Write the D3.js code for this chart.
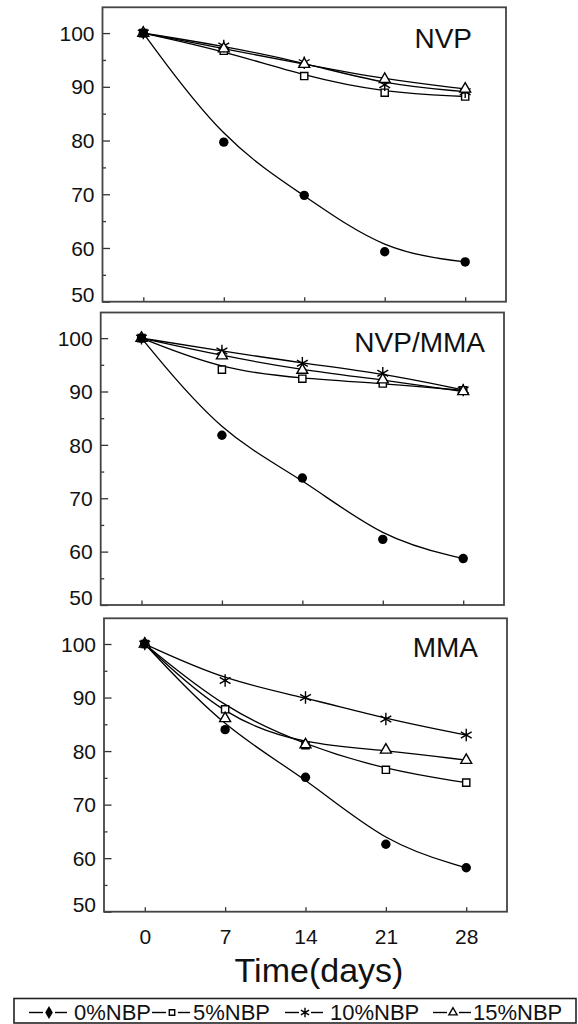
<!DOCTYPE html>
<html>
<head>
<meta charset="utf-8">
<script src="https://cdn.jsdelivr.net/npm/d3@7/dist/d3.min.js"></script>
<style>
  html, body { margin: 0; padding: 0; background: #fff; }
  svg { display: block; font-family: "Liberation Sans", Arial, sans-serif; }
</style>
</head>
<body>
<div class="graph"></div>
<script>
// data
const days = [0, 7, 14, 21, 28];
const seriesNames = ["0%NBP", "5%NBP", "10%NBP", "15%NBP"];
const panelNames = ["NVP", "NVP/MMA", "MMA"];
const yTicks = [50, 60, 70, 80, 90, 100];
const yMinorTicks = [55, 65, 75, 85, 95];

const nvp0 = [100, 79.7, 69.8, 59.3, 57.4];
const nvp5 = [100, 96.7, 92.0, 88.9, 88.2];
const nvp10 = [100, 97.6, 94.5, 90.4, 89.1];
const nvp15 = [100, 97.1, 94.2, 91.4, 89.6];

const mix0 = [100, 81.8, 73.8, 62.3, 58.7];
const mix5 = [100, 94.1, 92.4, 91.5, 90.2];
const mix10 = [100, 97.6, 95.3, 93.4, 90.3];
const mix15 = [100, 96.7, 94.0, 92.2, 90.0];

const mma0 = [100, 84.0, 75.1, 62.6, 58.2];
const mma5 = [100, 87.8, 81.1, 76.5, 74.1];
const mma10 = [100, 93.2, 90.0, 86.0, 83.0];
const mma15 = [100, 86.1, 81.2, 80.2, 78.3];

const panelValues = [
    [nvp0, nvp5, nvp10, nvp15],
    [mix0, mix5, mix10, mix15],
    [mma0, mma5, mma10, mma15],
];

// layout
const width = 578, height = 1024;
const panelBoxes = [
    { left: 102.5, right: 506, top: 7.3, bottom: 301.7, titleX: 472, titleY: 48 },
    { left: 100.7, right: 504, top: 312.5, bottom: 605, titleX: 485, titleY: 352 },
    { left: 104, right: 507, top: 618.3, bottom: 911.7, titleX: 478, titleY: 657 },
];
const xDomain = [-3.55, 31.55];
const yDomain = [50, 104.8];

const svg = d3.select(".graph")
        .append("svg")
        .attr("width", width)
        .attr("height", height);

const symbols = [
    null,               // filled dot
    d3.symbolSquare,
    d3.symbolAsterisk,
    d3.symbolTriangle,
];
const symbolSizes = [0, 52, 110, 52];

function drawMarker(g, i, x, y, scale = 1) {
    if (i === 0) {
        g.append("circle")
                .attr("cx", x).attr("cy", y)
                .attr("r", 4.7 * scale)
                .attr("fill", "#000");
        return;
    }
    g.append("path")
            .attr("transform", `translate(${x},${y})`)
            .attr("d", d3.symbol().type(symbols[i]).size(symbolSizes[i] * scale * scale)())
            .attr("fill", i === 2 ? "none" : "#fff")
            .attr("stroke", "#000")
            .attr("stroke-width", 1.4);
}

panelBoxes.forEach((box, p) => {
    const x = d3.scaleLinear().domain(xDomain).range([box.left, box.right]);
    const y = d3.scaleLinear().domain(yDomain).range([box.bottom, box.top]);
    const g = svg.append("g");
    const isLast = p === panelBoxes.length - 1;

    // y axis, ticks pointing in
    const yAxis = g.append("g")
            .attr("transform", `translate(${box.left},0)`)
            .call(d3.axisLeft(y).tickValues(yTicks).tickSizeInner(-7.5).tickSizeOuter(0).tickPadding(8));
    yAxis.append("g").call(d3.axisLeft(y).tickValues(yMinorTicks).tickSizeInner(-3.5).tickSizeOuter(0).tickFormat(""));
    yAxis.selectAll(".domain").remove();
    yAxis.selectAll("line").attr("stroke", "#333").attr("stroke-width", 1.3);
    yAxis.selectAll("text")
            .attr("font-size", 21)
            .attr("fill", "#111")
            .attr("dy", d => d === 50 ? "-0.02em" : "0.34em");

    // x axis
    const xAxis = g.append("g")
            .attr("transform", `translate(0,${box.bottom})`)
            .call(d3.axisBottom(x).tickValues(days).tickSizeInner(-4.5).tickSizeOuter(0).tickPadding(17)
                    .tickFormat(isLast ? d3.format("d") : () => ""));
    xAxis.selectAll(".domain").remove();
    xAxis.selectAll("line").attr("stroke", "#333").attr("stroke-width", 1.3);
    xAxis.selectAll("text").attr("font-size", 21).attr("fill", "#111");

    // frame
    g.append("rect")
            .attr("x", box.left).attr("y", box.top)
            .attr("width", box.right - box.left)
            .attr("height", box.bottom - box.top)
            .attr("fill", "none")
            .attr("stroke", "#444")
            .attr("stroke-width", 1.8);

    // curves
    const line = d3.line()
            .x((d, i) => x(days[i]))
            .y(d => y(d))
            .curve(d3.curveBasis);
    g.selectAll("path.series")
            .data(panelValues[p]).enter()
            .append("path")
            .attr("class", "series")
            .attr("d", line)
            .attr("fill", "none")
            .attr("stroke", "#000")
            .attr("stroke-width", 1.3);

    // markers, filled dots last so they sit on top at day 0
    [1, 2, 3, 0].forEach(s => {
        const mg = g.append("g");
        panelValues[p][s].forEach((v, i) => drawMarker(mg, s, x(days[i]), y(v)));
    });

    g.append("text")
            .attr("x", box.titleX)
            .attr("y", box.titleY)
            .attr("text-anchor", "end")
            .attr("font-size", 28)
            .attr("fill", "#111")
            .text(panelNames[p]);
});

// x axis title
svg.append("text")
        .attr("x", 319)
        .attr("y", 982)
        .attr("text-anchor", "middle")
        .attr("font-size", 34)
        .attr("fill", "#111")
        .text("Time(days)");

// legend
const legendTop = 998.5;
const legendMid = 1012.5;
const legendItemX = [29, 152, 285, 433];
const legendTextX = [74, 193, 330, 473];
const legend = svg.append("g");
legend.append("rect")
        .attr("x", 14).attr("y", legendTop)
        .attr("width", 562).attr("height", 24.5)
        .attr("fill", "none")
        .attr("stroke", "#222")
        .attr("stroke-width", 1.6);

seriesNames.forEach((name, s) => {
    const x0 = legendItemX[s];
    const cx = x0 + 20;
    legend.append("line")
            .attr("x1", x0).attr("x2", cx - 6)
            .attr("y1", legendMid).attr("y2", legendMid)
            .attr("stroke", "#000").attr("stroke-width", 1.4);
    legend.append("line")
            .attr("x1", cx + 6).attr("x2", cx + 18)
            .attr("y1", legendMid).attr("y2", legendMid)
            .attr("stroke", "#000").attr("stroke-width", 1.4);
    if (s === 0) {
        legend.append("path")
                .attr("transform", `translate(${cx},${legendMid})`)
                .attr("d", d3.symbol().type(d3.symbolDiamond).size(50)())
                .attr("fill", "#000");
    } else {
        drawMarker(legend, s, cx, legendMid, 0.75);
    }
    legend.append("text")
            .attr("x", legendTextX[s])
            .attr("y", legendMid + 7.5)
            .attr("font-size", 22)
            .attr("fill", "#111")
            .text(name);
});
</script>
</body>
</html>
